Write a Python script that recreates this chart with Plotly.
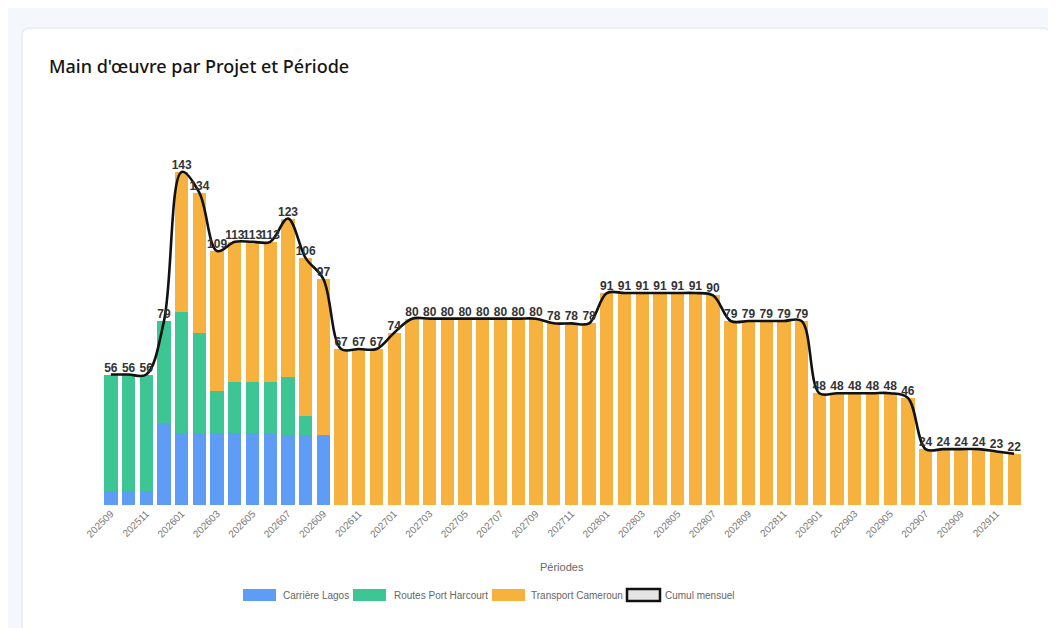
import plotly.graph_objects as go

periods = ["202509", "202510", "202511", "202512",
           "202601", "202602", "202603", "202604", "202605", "202606",
           "202607", "202608", "202609", "202610", "202611", "202612",
           "202701", "202702", "202703", "202704", "202705", "202706",
           "202707", "202708", "202709", "202710", "202711", "202712",
           "202801", "202802", "202803", "202804", "202805", "202806",
           "202807", "202808", "202809", "202810", "202811", "202812",
           "202901", "202902", "202903", "202904", "202905", "202906",
           "202907", "202908", "202909", "202910", "202911", "202912"]

carriere_lagos = [6, 6, 6, 35, 31, 31, 31, 31, 31, 31, 30, 30, 30,
                  0, 0, 0, 0, 0, 0, 0, 0, 0, 0, 0, 0, 0, 0, 0, 0, 0, 0, 0, 0, 0, 0, 0, 0, 0, 0,
                  0, 0, 0, 0, 0, 0, 0, 0, 0, 0, 0, 0, 0]
routes_port_harcourt = [50, 50, 50, 44, 52, 43, 18, 22, 22, 22, 25, 8, 0,
                        0, 0, 0, 0, 0, 0, 0, 0, 0, 0, 0, 0, 0, 0, 0, 0, 0, 0, 0, 0, 0, 0, 0, 0, 0, 0,
                        0, 0, 0, 0, 0, 0, 0, 0, 0, 0, 0, 0, 0]
transport_cameroun = [0, 0, 0, 0, 60, 60, 60, 60, 60, 60, 68, 68, 67,
                      67, 67, 67, 74, 80, 80, 80, 80, 80, 80, 80, 80, 78, 78, 78,
                      91, 91, 91, 91, 91, 91, 90, 79, 79, 79, 79, 79,
                      48, 48, 48, 48, 48, 46, 24, 24, 24, 24, 23, 22]
cumul_mensuel = [56, 56, 56, 79, 143, 134, 109, 113, 113, 113, 123, 106, 97,
                 67, 67, 67, 74, 80, 80, 80, 80, 80, 80, 80, 80, 78, 78, 78,
                 91, 91, 91, 91, 91, 91, 90, 79, 79, 79, 79, 79,
                 48, 48, 48, 48, 48, 46, 24, 24, 24, 24, 23, 22]

tick_labels = periods[::2]

series_names = ["Carrière Lagos", "Routes Port Harcourt", "Transport Cameroun", "Cumul mensuel"]
series_colors = ["#5f9cf6", "#3dc594", "#f7b13e", "#e4e4e4"]

# layout geometry (figure pixels; the page adds an 8px body offset)
OFF = 8
W, H = 1056, 628
L, R, T, B = 102 - OFF, 1056 - (1023 - OFF), 137 - OFF, 628 - (505 - OFF)
PW, PH = W - L - R, H - T - B


def px(x):
    return (x - OFF - L) / PW


def py(y):
    return (H - B - (y - OFF)) / PH


def clean(vals):
    return [v if v else None for v in vals]


fig = go.Figure()
for name, vals, col in zip(series_names[:3],
                           [carriere_lagos, routes_port_harcourt, transport_cameroun],
                           series_colors[:3]):
    fig.add_trace(go.Bar(x=periods, y=clean(vals), name=name,
                         marker=dict(color=col, line=dict(width=0))))
fig.add_trace(go.Scatter(x=periods, y=cumul_mensuel, mode="lines+text", name=series_names[3],
                         line=dict(color="#111111", width=2.6, shape="spline", smoothing=1.0),
                         text=[str(v) for v in cumul_mensuel], textposition="top center",
                         textfont=dict(family="Liberation Sans, Arial", size=12, color="#333333",
                                       weight="bold"),
                         hoverinfo="skip", cliponaxis=False))

r = 8
x0, x1, y0, y1 = 22, 1050, 28, 680
card_path = (f"M {px(x0 + r)} {py(y0)} L {px(x1 - r)} {py(y0)} "
             f"Q {px(x1)} {py(y0)} {px(x1)} {py(y0 + r)} "
             f"L {px(x1)} {py(y1)} L {px(x0)} {py(y1)} L {px(x0)} {py(y0 + r)} "
             f"Q {px(x0)} {py(y0)} {px(x0 + r)} {py(y0)} Z")

shapes = [dict(type="path", path=card_path, xref="paper", yref="paper",
               fillcolor="#ffffff", line=dict(color="#dde3ea", width=1), layer="below")]
annotations = [
    dict(text="Main d'œuvre par Projet et Période", xref="paper", yref="paper",
         x=px(47), y=py(66), xanchor="left", yanchor="middle", showarrow=False,
         font=dict(family="Noto Sans, Open Sans", size=18, color="#151515", weight=500)),
    dict(text="Périodes", xref="paper", yref="paper", x=px(562), y=py(567),
         xanchor="center", yanchor="middle", showarrow=False,
         font=dict(size=11, color="#666666")),
]

# custom legend (wide boxes like the reference)
legend_box_x = [243, 353, 492, 627]
legend_text_x = [281, 392, 529, 663]
ly = 595
for i, name in enumerate(series_names):
    is_line = i == 3
    shapes.append(dict(type="rect", xref="paper", yref="paper",
                       x0=px(legend_box_x[i]), x1=px(legend_box_x[i] + 33),
                       y0=py(ly - 6), y1=py(ly + 6),
                       fillcolor=series_colors[i],
                       line=dict(color="#111111" if is_line else series_colors[i],
                                 width=2.5 if is_line else 0)))
    annotations.append(dict(text=name, xref="paper", yref="paper", x=px(legend_text_x[i]),
                            y=py(ly), xanchor="left", yanchor="middle", showarrow=False,
                            font=dict(size=10, color="#666666")))

fig.update_layout(
    width=W, height=H,
    margin=dict(l=L, r=R, t=T, b=B, autoexpand=False),
    paper_bgcolor="#f4f7fb",
    plot_bgcolor="rgba(0,0,0,0)",
    barmode="stack",
    bargap=0.25,
    font=dict(family="Liberation Sans, Arial", color="#666666"),
    showlegend=False,
    xaxis=dict(type="category", categoryorder="array", categoryarray=periods,
               range=[-0.5, len(periods) - 0.5],
               tickmode="array", tickvals=tick_labels, ticktext=tick_labels,
               tickangle=-45, tickfont=dict(size=10, color="#777777"),
               showgrid=False, showline=False, zeroline=False, ticks="", automargin=False),
    yaxis=dict(range=[0, 158], visible=False, showgrid=False, automargin=False),
    shapes=shapes,
    annotations=annotations,
)

fig.write_html("out.html")
